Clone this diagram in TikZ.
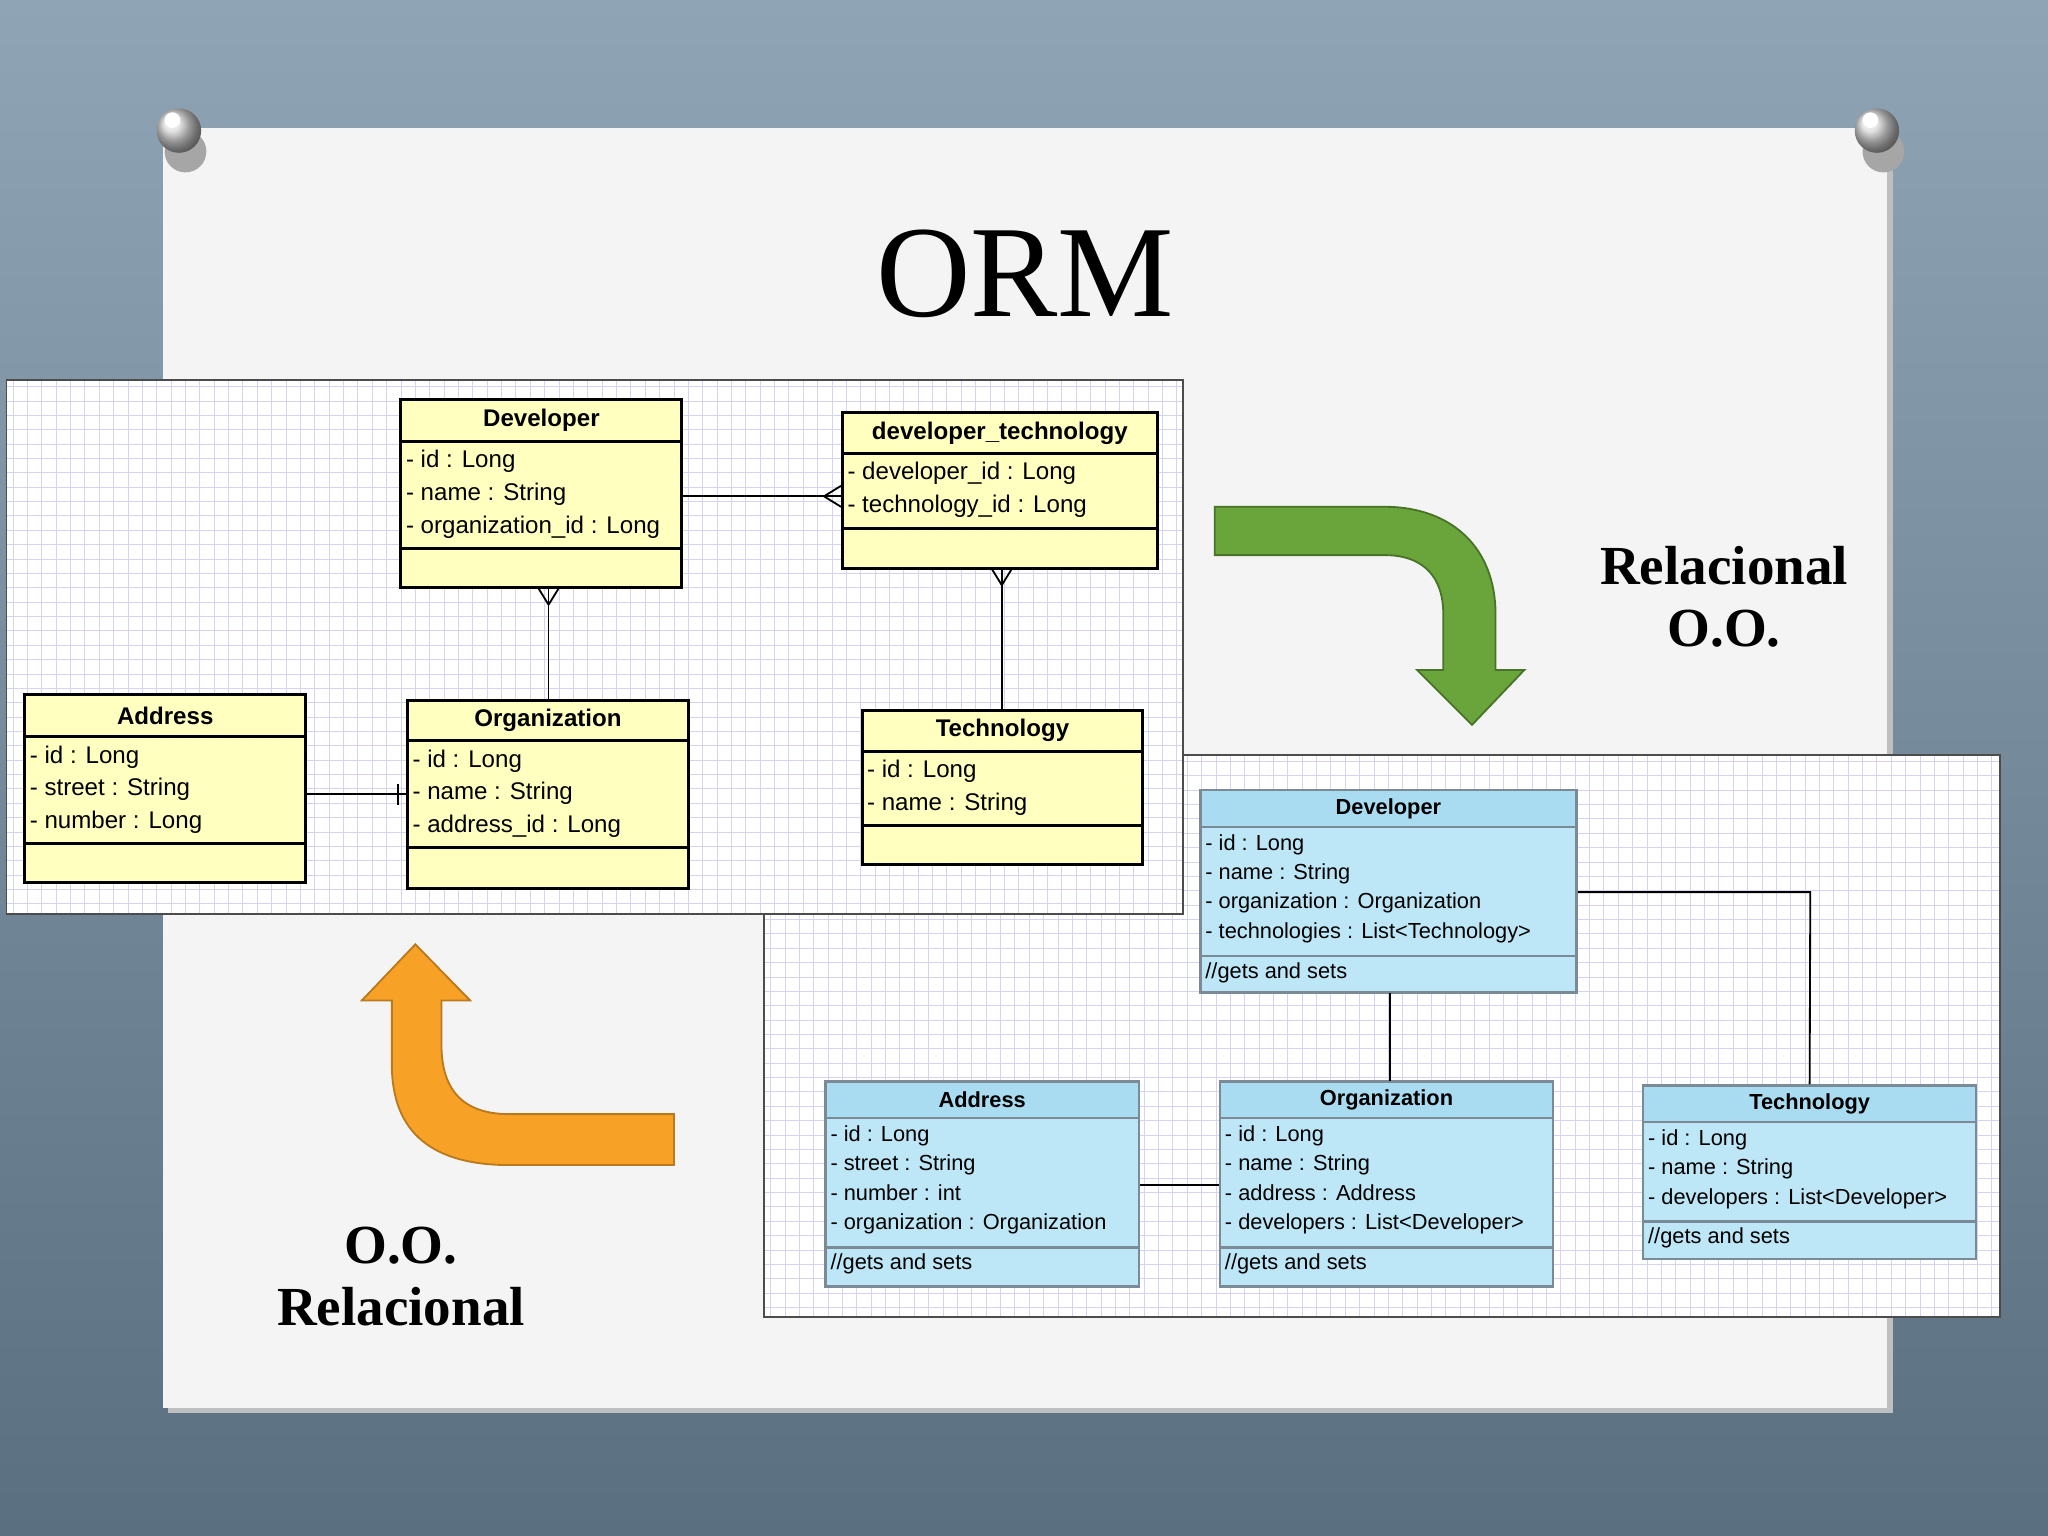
\documentclass[tikz,border=0pt]{standalone}
\usepackage{fontspec}
\newfontfamily\umlfont{Liberation Sans}
\newfontfamily\bigfont{Liberation Serif}
\usetikzlibrary{fit}
\definecolor{bgtop}{HTML}{8FA4B4}
\definecolor{bgbot}{HTML}{5A6F80}
\definecolor{paper}{HTML}{F4F4F4}
\definecolor{gridc}{HTML}{D4D4F0}
\definecolor{yel}{HTML}{FFFFC0}
\definecolor{blu}{HTML}{BDE6F6}
\definecolor{bluhd}{HTML}{A9DCF0}
\definecolor{bluln}{HTML}{7A8A96}
\definecolor{grn}{HTML}{6AA53C}
\definecolor{org}{HTML}{F7A226}
\tikzset{
  ybox/.style={draw=black, line width=1.3pt, inner sep=0pt},
  bbox/.style={draw=bluln, line width=1.1pt, inner sep=0pt},
  ytitle/.style={font=\umlfont\bfseries\fontsize{10.5}{12}\selectfont},
  yattr/.style={font=\umlfont\fontsize{10.5}{14.2}\selectfont, align=left, anchor=north west, inner sep=2pt},
  btitle/.style={font=\umlfont\bfseries\fontsize{9.5}{11}\selectfont},
  battr/.style={font=\umlfont\fontsize{9.5}{12.8}\selectfont, align=left, anchor=north west, inner sep=2pt},
  link/.style={draw=black, line width=0.8pt},
  big/.style={font=\bigfont\bfseries\fontsize{24}{27}\selectfont, align=center},
}
% name, x1, y1, x2, y2, header line, attr line, title, attributes
\newcommand\ytab[9]{%
  \node[ybox, fill=yel, fit={(#2,#3)(#4,#5)}] (#1) {};
  \draw[line width=1.3pt] (#2,#6) -- (#4,#6) (#2,#7) -- (#4,#7);
  \node[ytitle] (#1-t) at ({(#2+#4)/2},{(#3+#6)/2}) {#8};
  \node[yattr] (#1-a) at (#2,#6+3) {#9};
}
% name, x1, y1, x2, y2, header line, attr line, title, attributes
\newcommand\btab[9]{%
  \node[bbox, fill=blu, fit={(#2,#3)(#4,#5)}] (#1) {};
  \fill[bluhd] (#2,#3) rectangle (#4,#6);
  \draw[bluln, line width=1.1pt] (#2,#3) rectangle (#4,#5);
  \draw[bluln, line width=1.1pt] (#2,#6) -- (#4,#6) (#2,#7) -- (#4,#7);
  \node[btitle] (#1-t) at ({(#2+#4)/2},{(#3+#6)/2}) {#8};
  \node[battr] (#1-a) at (#2,#6+2) {#9};
  \node[battr] (#1-m) at (#2,#7+1) {//gets and sets};
}
\begin{document}
\begin{tikzpicture}[x=0.02cm, y=-0.02cm]
\shade[top color=bgtop, bottom color=bgbot] (0,0) rectangle (1568,1176);
\useasboundingbox (0,0) rectangle (1568,1176);
% paper
\fill[black!25] (129,102) rectangle (1449,1082);
\fill[paper] (125,98) rectangle (1445,1078);
% pins
\foreach \px in {137,1437}{
  \fill[black!35] (\px+5,116) circle (16);
  \shade[ball color=black!15] (\px,100) circle (17);
  \fill[white] (\px-5,92) circle (6);
}
\node[font=\bigfont\fontsize{57}{60}\selectfont] (title) at (785,210) {ORM};

% right panel (object model)
\fill[white] (585,578) rectangle (1531,1008);
\foreach \i in {590,601,...,1531} \draw[gridc, line width=0.4pt] (\i,578) -- (\i,1008);
\foreach \j in {583,594,...,1008} \draw[gridc, line width=0.4pt] (585,\j) -- (1531,\j);
\draw[black!70, line width=0.8pt] (585,578) rectangle (1531,1008);

% left panel (relational)
\fill[white] (5,291) rectangle (906,700);
\foreach \i in {10,21,...,906} \draw[gridc, line width=0.4pt] (\i,291) -- (\i,700);
\foreach \j in {296,307,...,700} \draw[gridc, line width=0.4pt] (5,\j) -- (906,\j);
\draw[black!70, line width=0.8pt] (5,291) rectangle (906,700);

\ytab{dev}{307}{306}{522}{450}{338}{420}{Developer}{- id : Long\\- name : String\\- organization\_id : Long}
\ytab{dt}{645}{316}{886}{435}{347}{405}{developer\_technology}{- developer\_id : Long\\- technology\_id : Long}
\ytab{adr}{19}{532}{234}{676}{564}{646}{Address}{- id : Long\\- street : String\\- number : Long}
\ytab{orgz}{312}{536}{527}{680}{567}{649}{Organization}{- id : Long\\- name : String\\- address\_id : Long}
\ytab{tec}{660}{544}{875}{662}{575}{632}{Technology}{- id : Long\\- name : String}

\coordinate (c1) at (dev.east|-0,380);
\coordinate (c2) at (dt.west|-0,380);
\draw[link] (c1) -- (c2);
\draw[link] (c2) ++(-13,0) -- ++(13,-8) (c2) ++(-13,0) -- ++(13,8);
\coordinate (c3) at (420,450);
\coordinate (c4) at (420,536);
\draw[link] (c3) -- (c4);
\draw[link] (c3) ++(0,13) -- ++(-8,-13) (c3) ++(0,13) -- ++(8,-13);
\coordinate (c5) at (767,435);
\coordinate (c6) at (767,544);
\draw[link] (c5) -- (c6);
\draw[link] (c5) ++(0,13) -- ++(-8,-13) (c5) ++(0,13) -- ++(8,-13);
\coordinate (c7) at (adr.east|-0,608);
\coordinate (c8) at (orgz.west|-0,608);
\draw[link] (c7) -- (c8);
\draw[link] (c8) ++(-6,-8) -- ++(0,16);

% blue classes
\btab{bdev}{919}{605}{1207}{760}{633}{732}{Developer}{- id : Long\\- name : String\\- organization : Organization\\- technologies : List<Technology>}
\btab{badr}{632}{828}{872}{985}{856}{955}{Address}{- id : Long\\- street : String\\- number : int\\- organization : Organization}
\btab{borg}{934}{828}{1189}{985}{856}{955}{Organization}{- id : Long\\- name : String\\- address : Address\\- developers : List<Developer>}
\btab{btec}{1258}{831}{1513}{964}{859}{935}{Technology}{- id : Long\\- name : String\\- developers : List<Developer>}

\draw[link] (1064,760) -- (1064,828);
\draw[link] (bdev.east|-0,683) -- (1386,683) -- (btec.north);
\draw[link] (badr.east|-0,907) -- (borg.west|-0,907);

% arrows
\filldraw[fill=grn, draw=grn!70!black, line width=0.8pt]
  (930,388) -- (1060,388) .. controls (1112,388) and (1145,420) .. (1145,470)
  -- (1145,513) -- (1167,513) -- (1127,555) -- (1085,513) -- (1105,513) -- (1105,470)
  .. controls (1105,442) and (1090,425) .. (1060,425) -- (930,425) -- cycle;
\filldraw[fill=org, draw=org!75!black, line width=0.8pt]
  (516,853) -- (390,853) .. controls (356,853) and (338,836) .. (338,800)
  -- (338,766) -- (360,766) -- (318,723) -- (277,766) -- (300,766) -- (300,815)
  .. controls (300,868) and (332,892) .. (390,892) -- (516,892) -- cycle;

\node[big] (rel1) at (1320,457) {Relacional\\O.O.};
\node[big] (rel2) at (307,977) {O.O.\\Relacional};
\end{tikzpicture}
\end{document}
